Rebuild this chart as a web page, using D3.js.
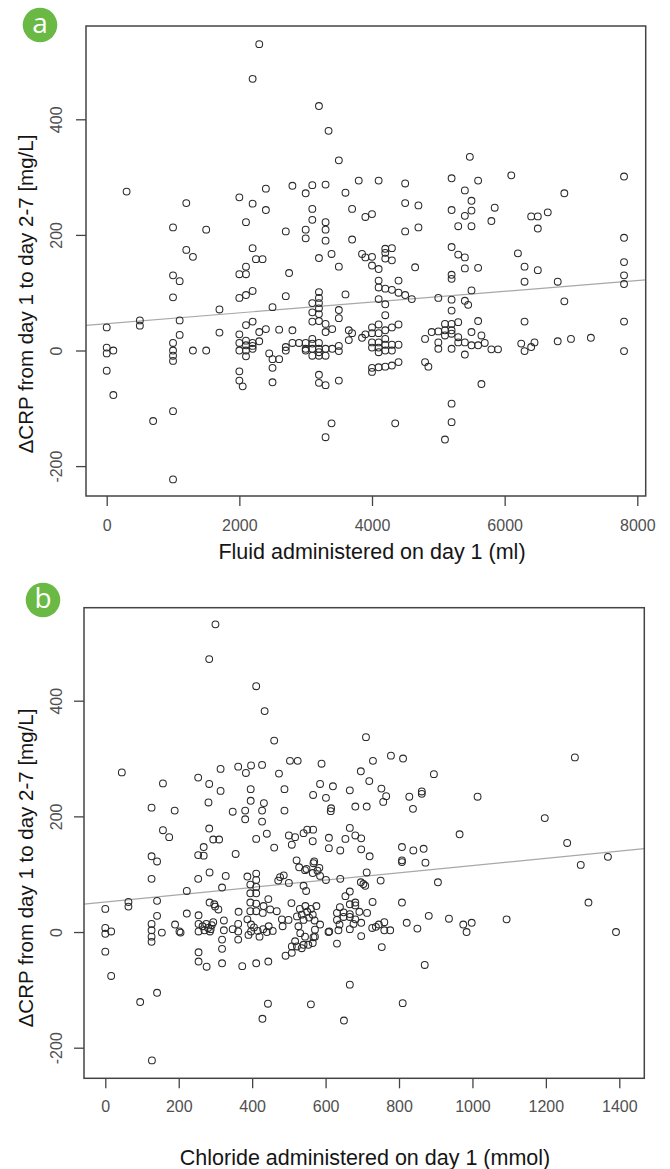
<!DOCTYPE html>
<html><head><meta charset="utf-8">
<script src="https://cdn.jsdelivr.net/npm/d3@7"></script>
<style>body{margin:0;background:#fff} svg{display:block}</style>
</head><body>
<svg id="c" width="670" height="1169"></svg>
<script>
// ---- Data ----
const fluidPoints = [
[0,40],[0,5],[0,-5],[0,-35],[100,0],[100,-77],
[300,275],[500,52],[500,43],[700,-122],
[1000,213],[1000,130],[1000,92],[1000,13],[1000,0],[1000,-9],[1000,-18],[1000,-105],[1000,-223],
[1100,120],[1100,52],[1100,27],
[1200,255],[1200,174],[1300,162],[1300,0],[1500,0],[1500,209],
[1700,71],[1700,31],
[2000,265],[2000,132],[2000,91],[2000,28],[2000,13],[2000,0],[2000,-36],[2000,-52],[2050,-62],
[2100,222],[2100,145],[2100,132],[2100,96],[2100,44],[2100,17],[2100,9],[2100,0],[2100,-10],
[2200,470],[2200,254],[2200,177],[2200,103],[2200,50],[2200,13],[2200,3],[2200,8],
[2250,158],[2350,158],[2300,530],[2300,32],[2300,16],
[2400,280],[2400,243],[2400,37],
[2450,-5],[2500,-15],[2500,-30],[2500,-55],[2500,75],
[2600,36],[2600,-15],
[2700,206],[2700,94],[2700,6],[2700,0],[2750,134],
[2800,285],[2800,35],[2800,13],[2900,13],
[3000,272],[3000,209],[3000,194],[3000,13],[3000,3],[3000,0],
[3100,286],[3100,245],[3100,226],[3100,82],[3100,66],[3100,50],[3100,20],[3100,12],[3100,3],[3100,-9],
[3200,423],[3200,160],[3200,101],[3200,91],[3200,82],[3200,73],[3200,63],[3200,51],[3200,13],[3200,3],[3200,-3],[3200,-9],[3200,-42],[3200,-56],
[3300,287],[3300,222],[3300,209],[3300,190],[3300,46],[3300,32],[3300,3],[3300,-9],[3300,-60],[3300,-150],
[3345,380],[3390,167],[3390,-126],[3400,37],[3400,3],
[3500,329],[3500,145],[3500,70],[3500,56],[3500,8],[3500,-1],[3500,-52],
[3600,273],[3600,97],[3650,35],[3700,30],[3650,18],[3700,245],[3700,192],[3800,294],
[3850,167],[3850,22],[3900,231],[3900,161],[3900,28],
[4000,236],[4000,162],[4000,147],[4000,-30],[4000,-37],[4000,40],[4000,30],[4000,14],[4000,5],
[4100,294],[4100,141],[4100,121],[4100,109],[4100,89],[4100,-29],[4100,45],[4100,30],[4100,14],[4100,5],[4100,-3],
[4200,176],[4200,169],[4200,159],[4200,107],[4200,80],[4200,61],[4200,-28],[4200,35],[4200,20],[4200,10],[4200,0],
[4300,177],[4300,156],[4300,105],[4300,-26],[4300,40],[4300,10],[4300,0],
[4350,-126],[4400,121],[4400,100],[4400,-20],[4400,45],[4400,10],
[4500,289],[4500,255],[4500,206],[4500,96],
[4600,89],[4650,144],[4700,251],[4700,213],
[4800,20],[4800,-20],[4850,-28],[4900,32],
[5000,91],[5000,33],[5000,14],[5000,3],
[5100,46],[5100,35],[5100,26],[5100,-154],
[5200,298],[5200,243],[5200,179],[5200,131],[5200,124],[5200,88],[5200,69],[5200,46],[5200,35],[5200,29],[5200,3],[5200,-92],[5200,-124],
[5300,215],[5300,166],[5300,49],[5300,23],[5300,14],
[5400,277],[5400,233],[5400,161],[5400,142],[5400,86],[5400,14],[5400,-7],
[5450,79],[5475,335],
[5500,259],[5500,242],[5500,215],[5500,104],[5500,32],[5500,9],
[5600,294],[5600,143],[5600,51],[5600,9],[5650,26],[5650,-58],
[5700,13],[5800,224],[5800,2],[5850,247],[5900,2],
[6100,303],[6200,168],[6250,12],[6300,145],[6300,119],[6300,50],[6300,-1],
[6400,232],[6400,6],[6450,14],[6500,232],[6500,211],[6500,139],[6650,239],
[6800,119],[6800,16],[6900,272],[6900,85],[7000,20],[7300,22],
[7800,301],[7800,195],[7800,153],[7800,130],[7800,115],[7800,50],[7800,-1]
];

const chloridePoints = [
[0,40],[0,7],[0,-3],[16,1],[0,-34],[16,-76],
[45,276],[63,52],[63,44],[95,-121],
[126,215],[126,131],[126,92],[126,14],[126,3],[126,-8],[126,-17],[127,-222],
[141,122],[141,54],[141,28],[141,-105],[154,-1],
[157,257],[157,176],[174,164],
[189,210],[190,13],[202,1],[205,-1],
[222,71],[222,32],
[253,267],[253,133],[253,92],[254,29],[254,14],[254,1],[254,-35],[254,-51],
[268,147],[268,132],[276,-60],
[281,224],[283,472],[283,256],[283,179],[284,103],[284,51],
[265,10],[270,3],[275,14],[280,7],[285,1],[290,12],[287,5],
[294,160],[297,48],[299,44],[294,17],[308,39],[310,160],
[300,532],[314,282],[314,244],
[318,77],[318,-13],[318,-29],[318,-54],[323,20],[323,3],[328,97],
[347,208],[347,5],[355,135],
[362,286],[362,14],[362,1],[362,-13],[363,35],[373,-59],
[381,210],[381,195],[383,275],[387,96],[387,22],
[395,82],[395,67],[395,51],[395,36],[396,247],[396,227],[397,288],[397,13],[397,1],
[390,-5],[405,8],[415,2],[420,-8],[430,5],[440,0],[445,10],[456,2],
[411,425],[411,101],[411,90],[411,78],[411,67],[411,49],[411,36],[411,161],[411,-54],
[427,289],[427,210],[432,223],[427,191],[429,33],[431,45],
[428,-150],[434,382],
[440,170],[443,-124],[444,57],[444,-51],[449,39],
[460,331],[460,146],
[467,36],[471,89],[473,274],[476,95],
[481,22],[483,10],[486,98],[488,247],[488,210],[491,-41],
[499,21],[500,167],[500,85],[503,296],[507,50],
[508,-36],[508,151],[508,-25],
[517,164],[517,-16],[521,124],[522,27],[522,-25],[524,296],
[526,10],[528,112],[531,-2],[535,-28],[540,171],[540,80],[540,21],[540,-22],[544,-8],[544,107],
[547,71],[548,109],[550,177],[553,-22],
[530,40],[535,30],[545,45],[550,35],[555,25],[560,40],[565,30],[570,20],[575,45],
[560,-125],
[565,157],[565,102],[565,-19],[566,177],[566,237],[567,-9],[567,119],
[569,122],[571,4],[571,-8],[578,106],[583,111],[585,97],[585,13],[585,256],[589,291],
[601,232],[601,90],[608,0],
[609,163],[609,145],[610,1],
[614,209],[615,214],[620,252],
[631,33],[631,21],[631,-20],[635,3],[638,13],[639,43],
[640,141],[640,92],[649,34],[649,26],
[650,-153],[654,161],
[654,62],[666,245],[666,180],[666,70],[666,48],[666,31],[666,26],[666,5],[666,-91],
[676,14],[681,217],[681,167],[681,51],[681,46],[681,22],
[692,35],[696,278],[696,86],[697,162],[697,143],[697,16],[697,-7],
[703,83],[708,80],[710,337],[712,217],[712,103],[713,33],
[719,261],[720,131],
[727,7],[728,52],[729,296],[737,9],[745,13],
[750,89],[752,248],[753,-26],[757,225],[760,17],[760,3],[765,235],[776,3],[778,305],
[808,147],[808,124],[808,121],[808,51],[810,-123],[811,300],[821,16],
[828,234],[838,213],[839,141],[850,6],
[862,243],[862,239],[867,144],[870,-57],[872,120],[881,28],
[895,273],[906,86],
[936,23],[965,169],[975,13],[984,0],[998,16],
[1014,234],[1093,22],[1197,197],[1258,154],[1279,302],[1295,116],[1316,51],[1369,130],[1391,0]
];

const fluidTicks = [0, 2000, 4000, 6000, 8000];
const chlorideTicks = [0, 200, 400, 600, 800, 1000, 1200, 1400];
const crpTicks = [-200, 0, 200, 400];
const fluidFit = [46.5, 0.0093];      // intercept, slope
const chlorideFit = [52, 0.0629];     // intercept, slope
const panelLabels = ["a", "b"];
const xTitles = ["Fluid administered on day 1 (ml)", "Chloride administered on day 1 (mmol)"];
const yTitle = "\u0394CRP from day 1 to day 2-7 [mg/L]";

// ---- Drawing ----
const svg = d3.select("#c");
const FONT = "'Liberation Sans', Arial, Helvetica, sans-serif";

function panel(cfg) {
  const g = svg.append("g");
  const x = d3.scaleLinear().domain([cfg.xTicks[0], cfg.xTicks[cfg.xTicks.length-1]]).range(cfg.xRange);
  const y = d3.scaleLinear().domain([-200, 400]).range(cfg.yRange);
  const b = cfg.box;

  const x0 = x.invert(b.left), x1 = x.invert(b.right);
  g.append("line")
    .attr("x1", x(x0)).attr("y1", y(cfg.fit[0] + cfg.fit[1]*x0))
    .attr("x2", x(x1)).attr("y2", y(cfg.fit[0] + cfg.fit[1]*x1))
    .attr("stroke", "#a8a8a8").attr("stroke-width", 1.2);

  g.append("g").selectAll("circle").data(cfg.points).join("circle")
    .attr("cx", d => x(d[0])).attr("cy", d => y(d[1])).attr("r", 3.4)
    .attr("fill", "none").attr("stroke", "#2a2a2a").attr("stroke-width", 1.05);

  g.append("rect").attr("x", b.left).attr("y", b.top)
    .attr("width", b.right - b.left).attr("height", b.bottom - b.top)
    .attr("fill", "none").attr("stroke", "#444").attr("stroke-width", 1.5);

  const xa = g.append("g").attr("transform", `translate(0,${b.bottom})`)
    .call(d3.axisBottom(x).tickValues(cfg.xTicks).tickFormat(d3.format("d")).tickSize(10).tickSizeOuter(0));
  xa.select(".domain").remove();
  xa.selectAll(".tick line").attr("stroke", "#444").attr("stroke-width", 1.3);
  xa.selectAll(".tick text").attr("y", cfg.xLabelOff).attr("dy", 0)
    .attr("fill", "#505050").style("font-family", FONT).style("font-size", "16px");

  const ya = g.append("g").attr("transform", `translate(${b.left},0)`)
    .call(d3.axisLeft(y).tickValues(crpTicks).tickFormat(d => String(d)).tickSize(10).tickSizeOuter(0));
  ya.select(".domain").remove();
  ya.selectAll(".tick line").attr("stroke", "#444").attr("stroke-width", 1.3);
  ya.selectAll(".tick text").attr("x", 0).attr("dy", 0).attr("y", cfg.yLabelOff)
    .attr("text-anchor", "middle").attr("transform", "rotate(-90)")
    .attr("fill", "#505050").style("font-family", FONT).style("font-size", "16px");

  g.append("text").attr("x", cfg.xTitlePos[0]).attr("y", cfg.xTitlePos[1])
    .attr("text-anchor", "middle").attr("fill", "#151515")
    .style("font-family", FONT).style("font-size", "21.5px").text(cfg.xTitle);
  g.append("text").attr("transform", `translate(${cfg.yTitlePos[0]},${cfg.yTitlePos[1]}) rotate(-90)`)
    .attr("text-anchor", "middle").attr("fill", "#151515")
    .style("font-family", FONT).style("font-size", "20.5px").text(yTitle);

  g.append("circle").attr("cx", cfg.badge[0]).attr("cy", cfg.badge[1]).attr("r", 17.3).attr("fill", "#69b944");
  g.append("text").attr("x", cfg.badge[0]).attr("y", cfg.badge[1] + 8.3)
    .attr("text-anchor", "middle").attr("fill", "#fff")
    .style("font-family", "'Open Sans', 'Noto Sans', sans-serif").style("font-size", "28px")
    .text(cfg.label);
}

panel({
  points: fluidPoints, xTicks: fluidTicks, fit: fluidFit, label: panelLabels[0], xTitle: xTitles[0],
  xRange: [106.7, 637.3], yRange: [466.1, 119.3],
  box: {left: 86, top: 26, right: 645.7, bottom: 496},
  xLabelOff: 35, yLabelOff: -24, xTitlePos: [372, 559], yTitlePos: [33, 294], badge: [40, 25]
});
panel({
  points: chloridePoints, xTicks: chlorideTicks, fit: chlorideFit, label: panelLabels[1], xTitle: xTitles[1],
  xRange: [105.3, 619.3], yRange: [1047.7, 700.7],
  box: {left: 84, top: 607.7, right: 644.3, bottom: 1078.3},
  xLabelOff: 34, yLabelOff: -22.5, xTitlePos: [365, 1165], yTitlePos: [33, 868], badge: [43, 600]
});
</script>
</body></html>
